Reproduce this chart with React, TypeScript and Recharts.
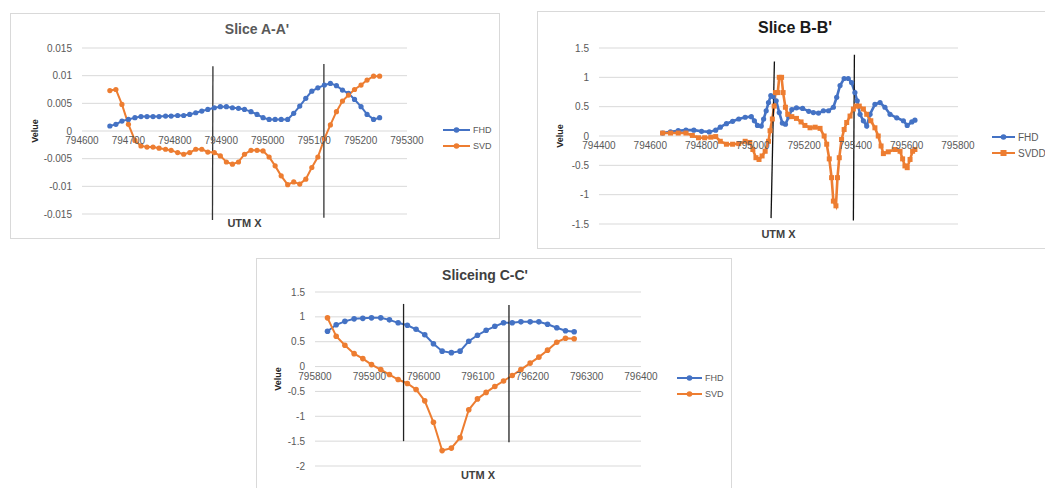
import React from 'react';
import {
  LineChart,
  Line,
  XAxis,
  YAxis,
  CartesianGrid,
  ReferenceLine,
  ReferenceDot,
  Legend,
} from 'recharts';

const BLUE = '#4472c4';
const ORANGE = '#ed7d31';
const FONT = '"Liberation Sans", Arial, sans-serif';

// Slice A-A'
const aUtm = [
  794660, 794673, 794686, 794700, 794714, 794727, 794740, 794753, 794766, 794780, 794792, 794806,
  794819, 794832, 794845, 794858, 794871, 794885, 794898, 794911, 794924, 794937, 794950, 794964,
  794977, 794990, 795003, 795016, 795029, 795043, 795056, 795069, 795082, 795095, 795108, 795122,
  795135, 795148, 795161, 795174, 795187, 795201, 795214, 795228, 795241,
];
const aFhd = [
  0.0009, 0.0012, 0.0018, 0.0021, 0.0024, 0.0026, 0.0026, 0.0026, 0.0026, 0.0027, 0.0027, 0.0028,
  0.0028, 0.003, 0.0033, 0.0036, 0.0039, 0.0042, 0.0044, 0.0044, 0.0042, 0.0041, 0.0039, 0.0035,
  0.003, 0.0024, 0.0021, 0.0021, 0.0021, 0.0021, 0.0032, 0.0045, 0.0059, 0.0072, 0.0078, 0.0083,
  0.0086, 0.0082, 0.0074, 0.0068, 0.0057, 0.0044, 0.003, 0.0021, 0.0024,
];
const aSvd = [
  0.0073, 0.0075, 0.0048, 0.0012, -0.0017, -0.0027, -0.0029, -0.0029, -0.0031, -0.0033, -0.0035,
  -0.0039, -0.0042, -0.0039, -0.0033, -0.0033, -0.0038, -0.0039, -0.0045, -0.0056, -0.006, -0.0056,
  -0.0042, -0.0035, -0.0035, -0.0036, -0.0047, -0.0063, -0.0081, -0.0097, -0.0092, -0.0096, -0.0087,
  -0.0066, -0.0047, -0.0014, 0.0011, 0.0035, 0.0054, 0.0065, 0.0075, 0.0083, 0.0092, 0.0099, 0.0099,
];
const aXTicks = [794600, 794700, 794800, 794900, 795000, 795100, 795200, 795300];
const aYTicks = [0.015, 0.01, 0.005, 0, -0.005, -0.01, -0.015];
const aCuts = [
  [794882, 0.0117, 794881, -0.0161],
  [795121, 0.0121, 795121, -0.0157],
];

// Slice B-B'
const bFhdUtm = [
  794648, 794679, 794709, 794739, 794770, 794800, 794830, 794855, 794873, 794897, 794921, 794945,
  794970, 794994, 795006, 795018, 795033, 795042, 795052, 795061, 795070, 795079, 795091, 795103,
  795115, 795127, 795140, 795152, 795170, 795194, 795218, 795236, 795256, 795275, 795295, 795314,
  795327, 795340, 795356, 795372, 795385, 795398, 795407, 795418, 795431, 795444, 795457, 795476,
  795496, 795515, 795535, 795561, 795587, 795602, 795620, 795632,
];
const bFhd = [
  0.05, 0.07, 0.09, 0.1, 0.1, 0.08, 0.07, 0.1, 0.15, 0.21, 0.25, 0.29, 0.32, 0.33, 0.26, 0.18, 0.17,
  0.29, 0.43, 0.57, 0.69, 0.67, 0.6, 0.4, 0.22, 0.2, 0.33, 0.45, 0.48, 0.47, 0.42, 0.4, 0.39, 0.43,
  0.43, 0.49, 0.66, 0.86, 0.98, 0.98, 0.91, 0.74, 0.6, 0.37, 0.26, 0.17, 0.37, 0.54, 0.57, 0.49,
  0.37, 0.31, 0.26, 0.18, 0.24, 0.27,
];
const bSvddUtm = [
  794648, 794679, 794709, 794739, 794764, 794788, 794812, 794836, 794855, 794873, 794897, 794921,
  794945, 794970, 794988, 795000, 795012, 795024, 795036, 795048, 795061, 795067, 795076, 795083,
  795088, 795097, 795103, 795112, 795118, 795127, 795136, 795152, 795170, 795188, 795203, 795223,
  795243, 795262, 795278, 795288, 795298, 795307, 795314, 795324, 795330, 795337, 795346, 795356,
  795366, 795379, 795392, 795402, 795415, 795431, 795444, 795460, 795476, 795489, 795500, 795509,
  795528, 795554, 795574, 795584, 795593, 795602, 795613, 795623, 795632,
];
const bSvdd = [
  0.05, 0.05, 0.05, 0.05, 0.01, -0.03, -0.03, -0.02, -0.01, -0.09, -0.14, -0.14, -0.13, -0.09, -0.11,
  -0.23, -0.37, -0.4, -0.34, -0.26, -0.09, 0.09, 0.29, 0.51, 0.74, 0.74, 1.0, 1.0, 0.74, 0.49, 0.37,
  0.33, 0.3, 0.24, 0.18, 0.14, 0.15, 0.13, 0.0, -0.14, -0.39, -0.71, -1.11, -1.19, -0.71, -0.37,
  -0.06, 0.11, 0.23, 0.34, 0.46, 0.51, 0.51, 0.46, 0.37, 0.26, 0.14, 0.0, -0.17, -0.3, -0.27, -0.23,
  -0.26, -0.39, -0.51, -0.54, -0.4, -0.26, -0.23,
];
const bXTicks = [794400, 794600, 794800, 795000, 795200, 795400, 795600, 795800];
const bYTicks = [1.5, 1, 0.5, 0, -0.5, -1, -1.5];
const bCuts = [
  [795084, 1.27, 795071, -1.4],
  [795396, 1.385, 795392, -1.44],
];

// Sliceing C-C'
const cUtm = [
  795823, 795839, 795855, 795872, 795888, 795904, 795921, 795937, 795953, 795970, 795986, 796002,
  796018, 796034, 796051, 796067, 796083, 796099, 796115, 796131, 796147, 796163, 796179, 796196,
  796212, 796228, 796245, 796261, 796277,
];
const cFhd = [
  0.71, 0.84, 0.91, 0.96, 0.97, 0.98, 0.98, 0.94, 0.88, 0.83, 0.75, 0.64, 0.46, 0.31, 0.28, 0.31, 0.51,
  0.63, 0.73, 0.81, 0.88, 0.88, 0.9, 0.9, 0.9, 0.85, 0.78, 0.72, 0.7,
];
const cSvd = [
  0.98, 0.61, 0.43, 0.26, 0.16, 0.04, -0.06, -0.16, -0.26, -0.34, -0.46, -0.69, -1.12, -1.69, -1.64,
  -1.43, -0.87, -0.65, -0.52, -0.4, -0.29, -0.18, -0.06, 0.07, 0.19, 0.33, 0.49, 0.57, 0.56,
];
const cXTicks = [795800, 795900, 796000, 796100, 796200, 796300, 796400];
const cYTicks = [1.5, 1, 0.5, 0, -0.5, -1, -1.5, -2];
const cCuts = [
  [795963, 1.26, 795963, -1.5],
  [796157, 1.24, 796157, -1.52],
];

type Series = {
  name: string;
  utm: number[];
  values: number[];
  color: string;
  square?: boolean;
  dot: number;
};

const toRows = (utm: number[], values: number[]) => utm.map((x, i) => ({ x, y: values[i] }));

function SquareDot(props: any) {
  const { cx, cy, size, color } = props;
  if (cx == null || cy == null) return null;
  return <rect x={cx - size / 2} y={cy - size / 2} width={size} height={size} fill={color} />;
}

function LegendList({ series, fontSize, gap, lineLen }: any) {
  return (
    <div style={{ display: 'flex', flexDirection: 'column', gap }}>
      {series.map((s: Series) => (
        <div key={s.name} style={{ display: 'flex', alignItems: 'center', height: 10 }}>
          <svg width={lineLen} height={10}>
            <line x1={0} y1={5} x2={lineLen} y2={5} stroke={s.color} strokeWidth={2} />
            {s.square ? (
              <rect x={lineLen / 2 - 3} y={2} width={6} height={6} fill={s.color} />
            ) : (
              <circle cx={lineLen / 2} cy={5} r={2.8} fill={s.color} />
            )}
          </svg>
          <span style={{ marginLeft: 3, fontSize, color: '#595959', fontFamily: FONT }}>{s.name}</span>
        </div>
      ))}
    </div>
  );
}

function SlicePanel(p: any) {
  const series: Series[] = p.series;
  return (
    <div
      style={{
        position: 'absolute',
        left: p.box.left,
        top: p.box.top,
        width: p.box.width,
        height: p.box.height,
        border: '1px solid #d9d9d9',
        boxSizing: 'border-box',
        background: '#fff',
      }}
    >
      <div
        style={{
          position: 'absolute',
          left: p.titlePos.x,
          top: p.titlePos.y,
          transform: 'translate(-50%, -50%)',
          whiteSpace: 'nowrap',
          fontFamily: FONT,
          fontWeight: 'bold',
          ...p.titleStyle,
        }}
      >
        {p.title}
      </div>
      <LineChart width={p.width} height={p.height} margin={p.margin}>
        <CartesianGrid vertical={false} stroke="#d9d9d9" />
        <XAxis
          type="number"
          dataKey="x"
          domain={p.xDomain}
          ticks={p.xTicks}
          tick={false}
          tickLine={false}
          axisLine={false}
          height={p.xAxisHeight}
          allowDataOverflow
          label={{
            value: 'UTM X',
            position: 'insideBottom',
            offset: p.xLabelOffset,
            fill: '#404040',
            fontSize: 11,
            fontWeight: 'bold',
            fontFamily: FONT,
          }}
        />
        <YAxis
          type="number"
          domain={p.yDomain}
          ticks={p.yTicks}
          width={p.yAxisWidth}
          axisLine={false}
          tickLine={false}
          tickMargin={4}
          tick={{ fontSize: 10, fill: '#595959', fontFamily: FONT }}
          label={{
            value: 'Velue',
            angle: -90,
            position: 'insideLeft',
            offset: p.yLabelOffset,
            fill: '#262626',
            fontSize: 9,
            fontWeight: 'bold',
            fontFamily: FONT,
            style: { textAnchor: 'middle' },
          }}
        />
        {p.xTicks.map((t: number) => (
          <ReferenceDot
            key={t}
            x={t}
            y={0}
            r={0}
            fill="none"
            stroke="none"
            ifOverflow="visible"
            label={{
              value: String(t),
              position: 'bottom',
              offset: 6,
              fill: '#595959',
              fontSize: 10,
              fontFamily: FONT,
            }}
          />
        ))}
        {series.map((s) => (
          <Line
            key={s.name}
            name={s.name}
            data={toRows(s.utm, s.values)}
            dataKey="y"
            stroke={s.color}
            strokeWidth={p.lineWidth}
            dot={
              s.square ? (
                <SquareDot size={s.dot} color={s.color} />
              ) : (
                { r: s.dot, fill: s.color, stroke: s.color, strokeWidth: 0 }
              )
            }
            activeDot={false}
            isAnimationActive={false}
          />
        ))}
        {p.cuts.map((c: number[], i: number) => (
          <ReferenceLine
            key={i}
            segment={[
              { x: c[0], y: c[1] },
              { x: c[2], y: c[3] },
            ]}
            stroke={p.cutColor}
            strokeWidth={1.3}
            ifOverflow="visible"
          />
        ))}
        <Legend
          layout="vertical"
          align="center"
          verticalAlign="middle"
          wrapperStyle={{ left: p.legendPos.left, top: p.legendPos.top, width: 'auto' }}
          content={() => (
            <LegendList series={series} fontSize={p.legendFont} gap={p.legendGap} lineLen={p.legendLine} />
          )}
        />
      </LineChart>
    </div>
  );
}

export default function App() {
  return (
    <div
      style={{
        position: 'fixed',
        left: 0,
        top: 0,
        width: 1045,
        height: 488,
        background: '#fff',
        overflow: 'hidden',
      }}
    >
      <SlicePanel
        box={{ left: 10, top: 13, width: 490, height: 226 }}
        width={488}
        height={224}
        margin={{ top: 34, right: 92, left: 0, bottom: 0 }}
        yAxisWidth={71}
        xAxisHeight={24}
        title="Slice A-A'"
        titlePos={{ x: 246, y: 15 }}
        titleStyle={{ fontSize: 14, color: '#595959' }}
        xDomain={[794600, 795300]}
        xTicks={aXTicks}
        yDomain={[-0.015, 0.015]}
        yTicks={aYTicks}
        series={[
          { name: 'FHD', utm: aUtm, values: aFhd, color: BLUE, dot: 2.6 },
          { name: 'SVD', utm: aUtm, values: aSvd, color: ORANGE, dot: 2.6 },
        ]}
        lineWidth={2}
        cuts={aCuts}
        cutColor="#333"
        xLabelOffset={11}
        yLabelOffset={24}
        legendPos={{ left: 432, top: 111 }}
        legendFont={9}
        legendGap={6}
        legendLine={27}
      />
      <SlicePanel
        box={{ left: 537, top: 11, width: 520, height: 238 }}
        width={507}
        height={236}
        margin={{ top: 36, right: 87, left: 0, bottom: 0 }}
        yAxisWidth={61}
        xAxisHeight={24}
        title="Slice B-B'"
        titlePos={{ x: 257, y: 16 }}
        titleStyle={{ fontSize: 16, color: '#1a1a1a' }}
        xDomain={[794400, 795800]}
        xTicks={bXTicks}
        yDomain={[-1.5, 1.5]}
        yTicks={bYTicks}
        series={[
          { name: 'FHD', utm: bFhdUtm, values: bFhd, color: BLUE, dot: 2.6 },
          { name: 'SVDD', utm: bSvddUtm, values: bSvdd, color: ORANGE, dot: 5, square: true },
        ]}
        lineWidth={2.6}
        cuts={bCuts}
        cutColor="#111"
        xLabelOffset={10}
        yLabelOffset={22}
        legendPos={{ left: 454, top: 120 }}
        legendFont={10}
        legendGap={6}
        legendLine={23}
      />
      <SlicePanel
        box={{ left: 256, top: 258, width: 476, height: 240 }}
        width={474}
        height={229}
        margin={{ top: 33, right: 90, left: 0, bottom: 0 }}
        yAxisWidth={58}
        xAxisHeight={22}
        title="Sliceing C-C'"
        titlePos={{ x: 228, y: 16 }}
        titleStyle={{ fontSize: 14, color: '#404040' }}
        xDomain={[795800, 796400]}
        xTicks={cXTicks}
        yDomain={[-2, 1.5]}
        yTicks={cYTicks}
        series={[
          { name: 'FHD', utm: cUtm, values: cFhd, color: BLUE, dot: 2.8 },
          { name: 'SVD', utm: cUtm, values: cSvd, color: ORANGE, dot: 2.8 },
        ]}
        lineWidth={2}
        cuts={cCuts}
        cutColor="#222"
        xLabelOffset={9}
        yLabelOffset={21}
        legendPos={{ left: 420, top: 114 }}
        legendFont={9}
        legendGap={6}
        legendLine={25}
      />
    </div>
  );
}
